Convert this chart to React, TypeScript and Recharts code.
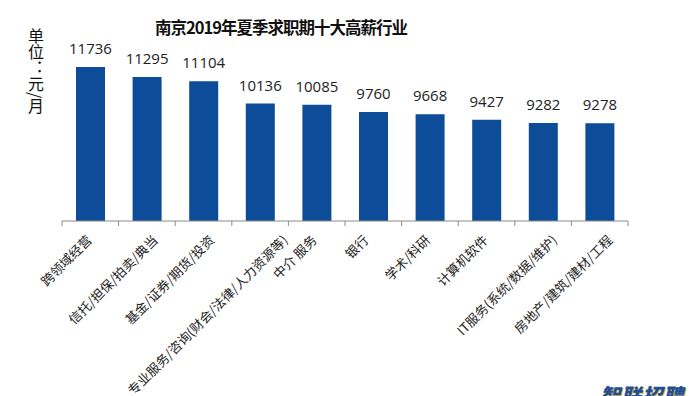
import React from 'react';
import { BarChart, Bar, XAxis, YAxis, LabelList } from 'recharts';

const categories = [
  '跨领域经营',
  '信托/担保/拍卖/典当',
  '基金/证券/期货/投资',
  '专业服务/咨询(财会/法律/人力资源等)',
  '中介 服务',
  '银行',
  '学术/科研',
  '计算机软件',
  'IT服务(系统/数据/维护)',
  '房地产/建筑/建材/工程',
];
const salaries = [11736, 11295, 11104, 10136, 10085, 9760, 9668, 9427, 9282, 9278];
const yDomain = [5000, 13000];

const W = 692;
const H = 396;
const MARGIN = { top: 38, right: 64, left: 62, bottom: 145 };
const BAND = (W - MARGIN.left - MARGIN.right) / categories.length;
const CJK_FONT = '"Noto Sans CJK SC", "Noto Sans", sans-serif';

// rough label length, long labels sit further right in the original
const textWidth = (s: string) =>
  Array.from(s).reduce((w, c) => w + (c.charCodeAt(0) > 0x2e80 ? 13 : c === ' ' ? 4 : 6.5), 0);

function CategoryTick(props: any) {
  const { x, y, payload, index } = props;
  const dx = -8 + 0.16 * textWidth(payload.value);
  const tx = x + dx;
  const ty = y + 20;
  return (
    <g>
      <line x1={x - BAND / 2} y1={y} x2={x - BAND / 2} y2={y + 5} stroke="#8a8a8a" />
      {index === categories.length - 1 && (
        <line x1={x + BAND / 2} y1={y} x2={x + BAND / 2} y2={y + 5} stroke="#8a8a8a" />
      )}
      <text
        x={tx}
        y={ty}
        textAnchor="end"
        transform={`rotate(-45 ${tx} ${ty})`}
        fontSize={13}
        fill="#222"
        fontFamily={CJK_FONT}
      >
        {payload.value}
      </text>
    </g>
  );
}

export default function App() {
  const data = categories.map((name, i) => ({ name, value: salaries[i] }));

  return (
    <div style={{ position: 'relative', width: W, height: H, overflow: 'hidden', background: '#fff' }}>
      <style>{'body{margin:0}'}</style>
      <div
        style={{
          position: 'absolute',
          left: 0,
          width: 562,
          top: 15,
          textAlign: 'center',
          fontFamily: CJK_FONT,
          fontWeight: 700,
          fontSize: 16.5,
          letterSpacing: -1,
          color: '#111',
        }}
      >
        南京2019年夏季求职期十大高薪行业
      </div>
      <div
        style={{
          position: 'absolute',
          left: 28,
          top: 28,
          writingMode: 'vertical-rl',
          fontFamily: CJK_FONT,
          fontSize: 16,
          color: '#111',
          lineHeight: 1,
        }}
      >
        单位：元/月
      </div>
      <BarChart width={W} height={H} data={data} margin={MARGIN}>
        <XAxis
          dataKey="name"
          interval={0}
          tickLine={false}
          tickSize={0}
          tickMargin={0}
          axisLine={{ stroke: '#8a8a8a' }}
          tick={<CategoryTick />}
        />
        <YAxis hide type="number" domain={yDomain} />
        <Bar dataKey="value" fill="#0d4c98" barSize={29} isAnimationActive={false}>
          <LabelList
            dataKey="value"
            position="top"
            offset={13}
            fill="#222"
            fontSize={15}
            fontFamily='"Open Sans", sans-serif'
          />
        </Bar>
      </BarChart>
      <div
        style={{
          position: 'absolute',
          left: 600,
          top: 380,
          fontFamily: CJK_FONT,
          fontWeight: 900,
          fontStyle: 'italic',
          fontSize: 20,
          color: '#1d4f9c',
          textShadow: '1px 1px 0 #e8b830',
          letterSpacing: 1,
        }}
      >
        智联招聘
      </div>
    </div>
  );
}
